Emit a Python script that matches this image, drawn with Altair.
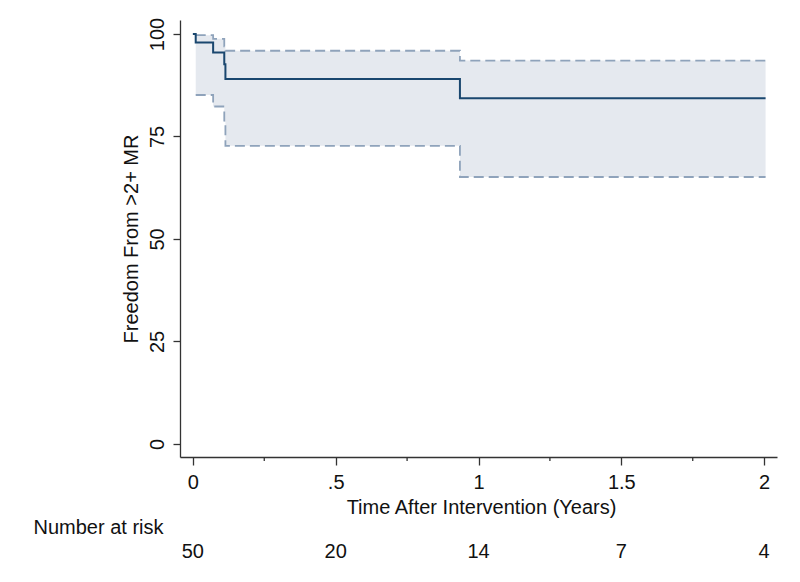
import altair as alt
import pandas as pd

# Kaplan-Meier estimate (step function)
km_time = [0.0, 0.01, 0.071, 0.110, 0.114, 0.935, 2.005]
km_surv = [100.0, 97.9, 95.5, 92.6, 89.0, 84.3, 84.3]

# 95% confidence band
ci_time = [0.01, 0.071, 0.110, 0.114, 0.935, 2.005]
ci_lower = [85.1, 82.3, 78.6, 72.7, 65.1, 65.1]
ci_upper = [99.7, 98.8, 97.0, 95.9, 93.5, 93.5]

# Axis ticks
x_major = [0, 0.5, 1, 1.5, 2]
x_minor = [0.25, 0.75, 1.25, 1.75]
y_ticks = [0, 25, 50, 75, 100]

# Number at risk table
risk_time = [0, 0.5, 1, 1.5, 2]
risk_n = [50, 20, 14, 7, 4]

FONT = "Liberation Sans"
FS = 20
AXC = "#333333"
W, H = 597, 437

km_df = pd.DataFrame({"t": km_time, "s": km_surv})
ci_df = pd.DataFrame({"t": ci_time, "lo": ci_lower, "hi": ci_upper})
minor_df = pd.DataFrame({"t": x_minor})
risk_df = pd.DataFrame({"t": risk_time, "n": [str(v) for v in risk_n]})

xs = alt.Scale(domain=[-0.045, 2.045], nice=False, zero=False)
ys = alt.Scale(domain=[-3.2, 103.4], nice=False, zero=False)

xaxis = alt.Axis(
    values=x_major, title="Time After Intervention (Years)",
    labelExpr="datum.value == 0.5 ? '.5' : format(datum.value, '~g')",
    grid=False, tickSize=8, tickColor=AXC, tickWidth=1.3,
    domainColor=AXC, domainWidth=1.3,
    labelFont=FONT, labelFontSize=FS, labelColor="#111111",
    labelBaseline="top", labelPadding=7, labelFlush=False,
    titleFont=FONT, titleFontSize=FS, titleFontWeight="normal", titleColor="#111111",
    titleBaseline="alphabetic", titleY=56, titleX=301, titleAnchor="start", titleAlign="center",
)
yaxis = alt.Axis(
    values=y_ticks, title="Freedom From >2+ MR",
    grid=False, tickSize=7, tickColor=AXC, tickWidth=1.3,
    domainColor=AXC, domainWidth=1.3,
    labelFont=FONT, labelFontSize=FS, labelColor="#111111",
    labelAngle=-90, labelAlign="center", labelBaseline="bottom", labelPadding=6,
    titleFont=FONT, titleFontSize=FS, titleFontWeight="normal", titleColor="#111111",
    titleAngle=-90, titleAlign="center", titleBaseline="middle", titleX=-49, titleY=H / 2,
)

band = alt.Chart(ci_df).mark_area(
    interpolate="step-after", color="#e5e9ef", opacity=1
).encode(
    x=alt.X("t:Q", scale=xs, axis=xaxis),
    y=alt.Y("lo:Q", scale=ys, axis=yaxis),
    y2="hi:Q",
)

upper = alt.Chart(ci_df).mark_line(
    interpolate="step-after", color="#8fa3bb", strokeWidth=1.8, strokeDash=[10, 5]
).encode(x=alt.X("t:Q", scale=xs, axis=xaxis), y=alt.Y("hi:Q", scale=ys, axis=yaxis))

lower = alt.Chart(ci_df).mark_line(
    interpolate="step-after", color="#8fa3bb", strokeWidth=1.8, strokeDash=[10, 5]
).encode(x=alt.X("t:Q", scale=xs, axis=xaxis), y=alt.Y("lo:Q", scale=ys, axis=yaxis))

km = alt.Chart(km_df).mark_line(
    interpolate="step-after", color="#1a476f", strokeWidth=2
).encode(x=alt.X("t:Q", scale=xs, axis=xaxis), y=alt.Y("s:Q", scale=ys, axis=yaxis))

minor = alt.Chart(minor_df).mark_rule(color=AXC, strokeWidth=1.3).encode(
    x=alt.X("t:Q", scale=xs, axis=xaxis),
    y=alt.value(H), y2=alt.value(H + 4),
)

risk_title = alt.Chart(pd.DataFrame({"label": ["Number at risk"]})).mark_text(
    font=FONT, fontSize=FS, color="#111111", align="left", baseline="alphabetic"
).encode(x=alt.value(-146.5), y=alt.value(514), text="label:N")

risk = alt.Chart(risk_df).mark_text(
    font=FONT, fontSize=FS, color="#111111", align="center", baseline="alphabetic"
).encode(
    x=alt.X("t:Q", scale=xs, axis=xaxis),
    y=alt.value(538),
    text="n:N",
)

chart = alt.layer(band, upper, lower, km, minor, risk_title, risk).properties(
    width=W, height=H,
    autosize=alt.AutoSizeParams(type="none"),
    padding={"left": 172, "top": 12, "right": 15, "bottom": 110},
    background="white",
).configure_view(stroke=None)

chart.save("out.html", embed_options={"renderer": "svg", "actions": False})
